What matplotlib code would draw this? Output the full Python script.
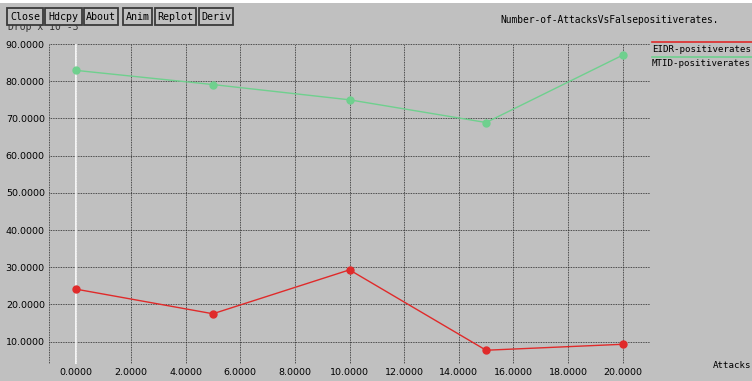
import matplotlib
matplotlib.use("Agg")
import matplotlib.pyplot as plt
from matplotlib.patches import Rectangle

# attack counts and false-positive rates (x 10^-3)
attacks = [0, 5, 10, 15, 20]
eidr_rates = [24.1, 17.5, 29.3, 7.7, 9.3]
mtid_rates = [82.9, 79.1, 75.0, 68.9, 87.0]

xticks = [0, 2, 4, 6, 8, 10, 12, 14, 16, 18, 20]
yticks = [10, 20, 30, 40, 50, 60, 70, 80, 90]

buttons = ["Close", "Hdcpy", "About", "Anim", "Replot", "Deriv"]
button_x = [7, 45, 84, 123, 155, 199]
button_w = [36, 37, 34, 29, 41, 34]

W, H = 752, 381
BG = "#c0c0c0"
MONO = "DejaVu Sans Mono"
RED = "#e02a2a"
GREEN = "#6fd08e"

fig = plt.figure(figsize=(W / 100, H / 100), dpi=100, facecolor=BG)

# thin white strip along the top of the window
fig.patches.append(Rectangle((0, 1 - 3 / H), 1, 3 / H, transform=fig.transFigure,
                             facecolor="white", edgecolor="none"))

def px(x, y):
    return x / W, 1 - y / H

left, right, top, bottom = 49, 650, 44, 364
ax = fig.add_axes([left / W, 1 - bottom / H, (right - left) / W, (bottom - top) / H])
ax.set_facecolor(BG)
ax.set_xlim(-1, 21)
ax.set_ylim(4, 90)

for s in ax.spines.values():
    s.set_visible(False)
ax.tick_params(length=0, labelsize=6.8, colors="black", pad=3)
ax.set_xticks(xticks)
ax.set_xticklabels(["%.4f" % v for v in xticks])
ax.set_yticks(yticks)
ax.set_yticklabels(["%.4f" % v for v in yticks])

# dotted grid, including the frame edges
grid_kw = dict(color="#222222", linestyle=(0, (1, 1)), linewidth=0.6, zorder=1)
for v in xticks:
    ax.axvline(v, **grid_kw)
for v in yticks:
    ax.axhline(v, **grid_kw)
ax.axvline(-1, **grid_kw)
ax.axvline(21, **grid_kw)
ax.axhline(4, **grid_kw)
ax.axvline(0, color="white", linewidth=1.2, zorder=2)

ax.plot(attacks, eidr_rates, color=RED, linewidth=1, marker="o", markersize=5,
        zorder=3)
ax.plot(attacks, mtid_rates, color=GREEN, linewidth=1, marker="o", markersize=5,
        zorder=3)

# axis caption, partly hidden by the buttons
fig.text(*px(8, 27), "Drop x 10^-3", family=MONO, fontsize=7, va="center",
         color="#333333", zorder=0.5)

for name, bx, bw in zip(buttons, button_x, button_w):
    x0, y0 = px(bx, 25)
    fig.patches.append(Rectangle((x0, y0), bw / W, 17 / H, transform=fig.transFigure,
                                 facecolor=BG, edgecolor="#3a3a3a", linewidth=1.3,
                                 zorder=1))
    fig.text(*px(bx + bw / 2, 16.5), name, family=MONO, fontsize=7.2, ha="center",
             va="center", zorder=2)

fig.text(*px(500, 20), "Number-of-AttacksVsFalsepositiverates.", family=MONO,
         fontsize=6.9, va="center")

# legend at the right of the plot
fig.add_artist(plt.Line2D([652 / W, 1], [1 - 42 / H] * 2, transform=fig.transFigure,
                          color=RED, linewidth=1.2))
fig.text(*px(652, 49), "EIDR-positiverates", family=MONO, fontsize=6.6, va="center")
fig.add_artist(plt.Line2D([652 / W, 1], [1 - 57 / H] * 2, transform=fig.transFigure,
                          color=GREEN, linewidth=1.2))
fig.text(*px(652, 64), "MTID-positiverates", family=MONO, fontsize=6.6, va="center")

fig.text(*px(713, 366), "Attacks", family=MONO, fontsize=6.6, va="center")

fig.savefig("out.png", dpi=100, facecolor=BG)
